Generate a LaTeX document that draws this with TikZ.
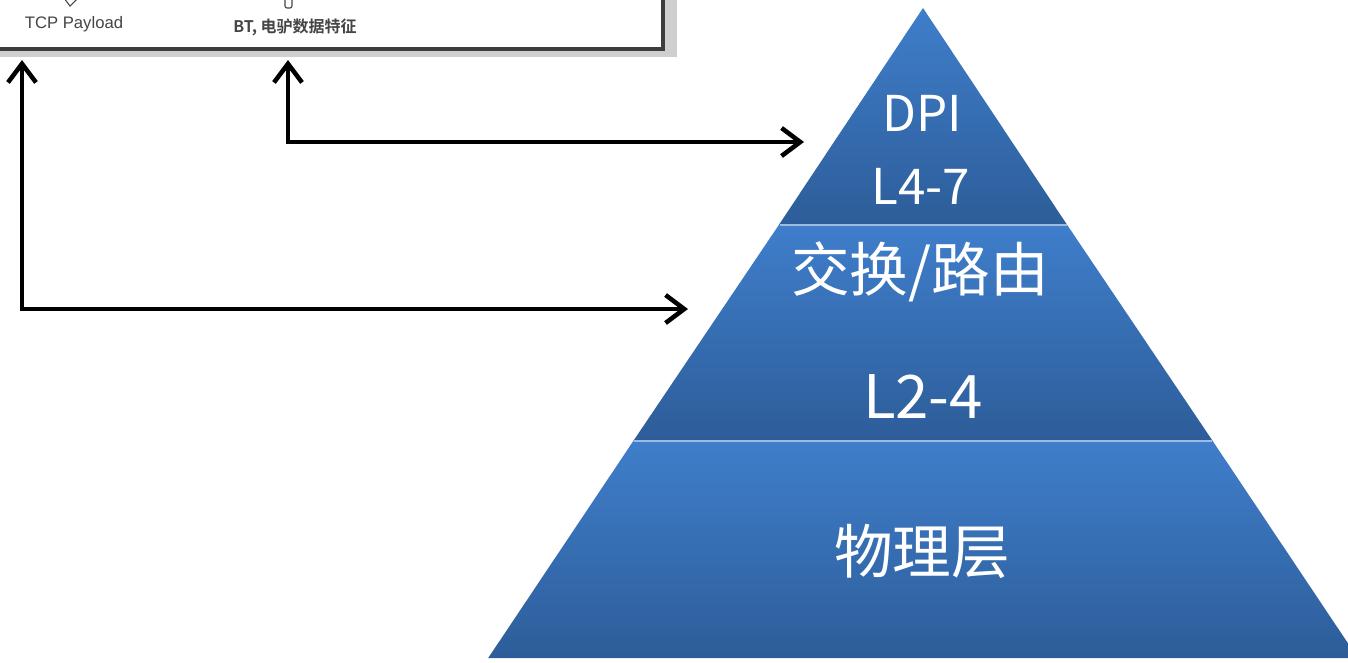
\documentclass[tikz,border=0pt]{standalone}
\usepackage{fontspec}
\setmainfont{Liberation Sans}
\newfontfamily\cjk{Noto Sans CJK SC}
\newfontfamily\cjkb{Noto Sans CJK SC Bold}
\usetikzlibrary{arrows.meta}
\definecolor{bandL}{HTML}{3F7ECB}
\definecolor{bandD}{HTML}{2D5D99}
\definecolor{sepline}{HTML}{9DBBE0}
\definecolor{boxline}{HTML}{3C3C3C}
\definecolor{shadowg}{HTML}{CFCFCF}
\definecolor{smalltext}{HTML}{454545}
\tikzset{
  band/.style={top color=bandL, bottom color=bandD, draw=none},
  sep/.style={draw=sepline, line width=1.2pt},
  linkarrow/.style={line width=3.4pt, {Straight Barb[length=14pt,width=21pt]}-{Straight Barb[length=14pt,width=21pt]}},
  pyrtext/.style={text=white, inner sep=0pt, font=\cjk},
  boxtext/.style={text=smalltext, inner sep=0pt},
}
\begin{document}
\begin{tikzpicture}[x=0.75pt,y=-0.75pt]
\useasboundingbox (0,0) rectangle (1348,662);
\fill[white] (0,0) rectangle (1348,662);
% box with shadow
\fill[shadowg] (-20,-20) rectangle (677,57);
\fill[white,draw=boxline,line width=2.6pt] (-20,-20) rectangle (663,49);
% small partial icons
\draw[smalltext,line width=0.8pt] (64,-2) -- (70,6) -- (78,-2);
\draw[smalltext,line width=0.8pt,rounded corners=1.5pt] (285,-4) rectangle (292,8);
\node[boxtext,font=\fontsize{12.5}{14}\selectfont] (tcp) at (74,24) {TCP Payload};
\node[boxtext,font=\cjkb\fontsize{12}{14}\selectfont] (bt) at (295,27) {BT, 电驴数据特征};
% pyramid
\coordinate (apex) at (923,8);
\shade[band] (923,8) -- (1067.2,225) -- (778.8,225) -- cycle;
\shade[band] (778.8,225) -- (1067.2,225) -- (1212.7,441) -- (633.3,441) -- cycle;
\shade[band] (633.3,441) -- (1212.7,441) -- (1357.8,658) -- (488.2,658) -- cycle;
\draw[sep] (779.5,225) -- (1066.5,225);
\draw[sep] (634,441) -- (1212,441);
\node[pyrtext,font=\cjk\fontsize{37}{40}\selectfont] (dpi) at (922,113) {DPI};
\node[pyrtext,font=\cjk\fontsize{37}{40}\selectfont] (l47) at (921,186) {L4-7};
\node[pyrtext,font=\cjk\fontsize{44}{48}\selectfont] (sw) at (920,272) {交换/路由};
\node[pyrtext,font=\cjk\fontsize{45}{48}\selectfont] (l24) at (923,396) {L2-4};
\node[pyrtext,font=\cjk\fontsize{44}{48}\selectfont] (phy) at (922,551) {物理层};
% arrows
\coordinate (tcpend) at (22,60);
\coordinate (btend) at (288,60);
\coordinate (swend) at (688,309);
\coordinate (dpiend) at (804,142);
\draw[linkarrow] (tcpend) |- (swend);
\draw[linkarrow] (btend) |- (dpiend);
\end{tikzpicture}
\end{document}
